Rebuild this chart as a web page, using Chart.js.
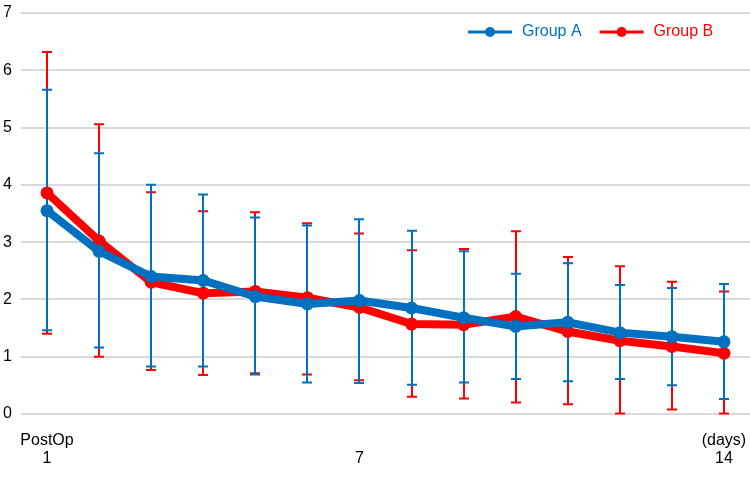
<!DOCTYPE html>
<html>
<head>
<meta charset="utf-8">
<script src="https://cdn.jsdelivr.net/npm/chart.js@4/dist/chart.umd.min.js"></script>
<style>
html,body{margin:0;padding:0;background:#fff;overflow:hidden;}
</style>
</head>
<body>
<canvas id="c" width="750" height="477" style="display:block;width:750px;height:477px;"></canvas>
<script>
const categories = [
  ["PostOp","1"], "", "", "", "", "", ["","7"], "", "", "", "", "", "", ["(days)","14"]
];
const yTicks = [0,1,2,3,4,5,6,7];

const groupAMean  = [3.55, 2.84, 2.40, 2.33, 2.05, 1.92, 1.98, 1.85, 1.68, 1.53, 1.60, 1.42, 1.35, 1.26];
const groupAUpper = [5.66, 4.55, 4.00, 3.83, 3.43, 3.29, 3.40, 3.20, 2.84, 2.45, 2.63, 2.25, 2.20, 2.27];
const groupALower = [1.46, 1.16, 0.83, 0.83, 0.69, 0.55, 0.54, 0.51, 0.55, 0.61, 0.57, 0.61, 0.50, 0.26];

const groupBMean  = [3.86, 3.02, 2.30, 2.11, 2.14, 2.03, 1.86, 1.57, 1.56, 1.70, 1.44, 1.28, 1.18, 1.06];
const groupBUpper = [6.32, 5.06, 3.87, 3.54, 3.52, 3.33, 3.15, 2.86, 2.88, 3.19, 2.74, 2.58, 2.31, 2.14];
const groupBLower = [1.40, 1.00, 0.77, 0.68, 0.71, 0.69, 0.59, 0.30, 0.27, 0.20, 0.17, 0.01, 0.08, 0.01];

const BLUE = '#0070C0';
const RED = '#FF0000';
const FONT = 'Liberation Sans, Arial, sans-serif';

const errorBars = {
  id: 'errorBars',
  beforeDatasetsDraw(chart){
    const ctx = chart.ctx;
    const xs = chart.scales.x, ys = chart.scales.y;
    const sets = [
      {up: groupBUpper, lo: groupBLower, color: RED},
      {up: groupAUpper, lo: groupALower, color: BLUE}
    ];
    ctx.save();
    ctx.lineWidth = 2;
    sets.forEach(s => {
      ctx.strokeStyle = s.color;
      for (let i = 0; i < categories.length; i++){
        const x = Math.round(xs.getPixelForValue(i));
        const yu = ys.getPixelForValue(s.up[i]);
        const yl = ys.getPixelForValue(s.lo[i]);
        ctx.beginPath();
        ctx.moveTo(x, yu); ctx.lineTo(x, yl);
        ctx.moveTo(x-5, yu); ctx.lineTo(x+5, yu);
        ctx.moveTo(x-5, yl); ctx.lineTo(x+5, yl);
        ctx.stroke();
      }
    });
    ctx.restore();
  }
};

const lineLegend = {
  id: 'lineLegend',
  afterDraw(chart){
    const ctx = chart.ctx;
    const ds = chart.data.datasets;
    const y = 32;
    let x = 468;
    ctx.save();
    ctx.font = '16px ' + FONT;
    ctx.textBaseline = 'middle';
    ds.forEach(d => {
      ctx.strokeStyle = d.borderColor;
      ctx.fillStyle = d.borderColor;
      ctx.lineWidth = 3;
      ctx.beginPath(); ctx.moveTo(x, y); ctx.lineTo(x + 44, y); ctx.stroke();
      ctx.beginPath(); ctx.arc(x + 22, y, 5, 0, Math.PI * 2); ctx.fill();
      ctx.fillText(d.label, x + 54, y);
      x += 54 + ctx.measureText(d.label).width + 18;
    });
    ctx.restore();
  }
};

new Chart(document.getElementById('c'), {
  type: 'line',
  data: {
    labels: categories,
    datasets: [
      {label: 'Group A', data: groupAMean, borderColor: BLUE, backgroundColor: BLUE,
       borderWidth: 8, pointRadius: 6.5, pointBorderWidth: 0, pointBackgroundColor: BLUE, tension: 0},
      {label: 'Group B', data: groupBMean, borderColor: RED, backgroundColor: RED,
       borderWidth: 8, pointRadius: 6.5, pointBorderWidth: 0, pointBackgroundColor: RED, tension: 0}
    ]
  },
  options: {
    responsive: false,
    animation: false,
    layout: {autoPadding: false, padding: {top: 13, right: 0, left: 3, bottom: 0}},
    plugins: {
      tooltip: {enabled: false},
      legend: {display: false}
    },
    scales: {
      x: {
        type: 'category',
        offset: true,
        grid: {display: false, drawTicks: false},
        border: {display: false},
        afterFit(axis){ axis.paddingLeft = 0; axis.paddingRight = 0; axis.height = 63; },
        ticks: {
          autoSkip: false, maxRotation: 0, color: '#000', padding: 17,
          font: {family: FONT, size: 16, lineHeight: 1.15}
        }
      },
      y: {
        min: 0, max: 7,
        afterBuildTicks(axis){ axis.ticks = yTicks.map(v => ({value: v})); },
        grid: {color: '#d9d9d9', lineWidth: 2, drawTicks: false},
        border: {display: false},
        afterFit(axis){ axis.paddingTop = 0; axis.paddingBottom = 0; axis.width = 18; },
        ticks: {
          color: '#000', padding: 9,
          font: {family: FONT, size: 16}
        }
      }
    }
  },
  plugins: [errorBars, lineLegend]
});
</script>
</body>
</html>
